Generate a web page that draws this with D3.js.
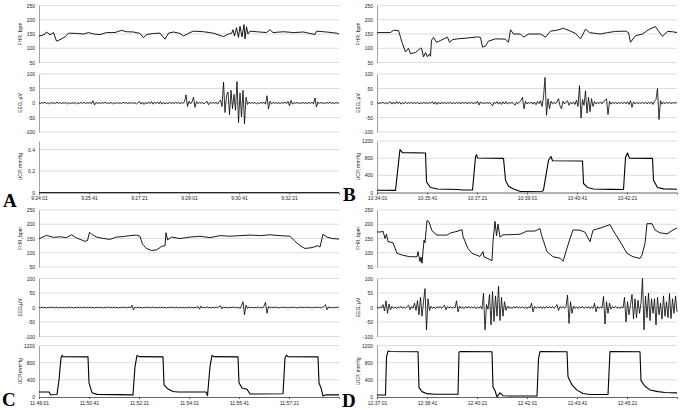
<!DOCTYPE html>
<meta charset="utf-8">
<script src="https://d3js.org/d3.v7.min.js"></script>
<style>
  body { margin: 0; background: #fff; }
  svg { display: block; font-family: "Liberation Sans", Arial, sans-serif; }
</style>
<div id="chart"></div>
<script>
const width = 683, height = 410;

// time axis labels, one every 100 s
const timesA = ["9:24:01", "9:25:41", "9:27:21", "9:29:01", "9:30:41", "9:32:21"];
const timesB = ["10:34:01", "10:35:41", "10:37:21", "10:39:01", "10:40:41", "10:42:21"];
const timesC = ["11:49:01", "11:50:41", "11:52:21", "11:54:01", "11:55:41", "11:57:21"];
const timesD = ["12:37:01", "12:38:41", "12:40:21", "12:42:01", "12:43:41", "12:45:21"];
const timeTicks = [0, 100, 200, 300, 400, 500];

const fhrTicks = [50, 100, 150, 200, 250];
const eegTicks = [-100, -50, 0, 50, 100];
const ucpTicks = [0, 400, 800, 1200];
const ucpTicksA = [0, 0.2, 0.4];

// FHR, [seconds, bpm]
const fhrA = [[0,143],[6,145],[12,150],[15,157],[22,147],[29,155],[35,125],[42,130],[52,140],[59,153],[75,152],[89,150],[99,155],[109,150],[122,148],[135,155],[152,155],[165,163],[175,158],[189,157],[202,152],[209,137],[215,148],[229,152],[242,153],[252,132],[259,153],[269,157],[282,152],[289,143],[302,155],[309,160],[329,158],[349,153],[369,141],[379,150],[385,152],[388,165],[391,143],[395,172],[399,138],[402,177],[406,140],[410,183],[412,133],[415,175],[418,150],[422,160],[435,158],[455,155],[462,165],[468,155],[489,158],[509,155],[529,157],[552,148],[555,160],[575,157],[595,153],[600,150]];
const fhrB = [[0,155],[27,155],[33,163],[43,162],[50,121],[57,87],[63,100],[67,81],[77,85],[87,100],[89,100],[93,70],[97,85],[101,70],[105,80],[107,72],[109,128],[113,138],[119,121],[127,127],[141,139],[145,121],[151,130],[161,133],[181,136],[201,140],[207,138],[211,104],[217,108],[223,125],[237,133],[257,132],[263,121],[267,165],[273,150],[287,150],[293,139],[303,150],[327,150],[337,139],[347,160],[359,163],[373,170],[387,160],[397,152],[407,133],[417,167],[425,155],[437,152],[447,150],[461,155],[477,159],[497,160],[503,155],[507,121],[517,144],[531,150],[543,165],[557,176],[563,160],[571,142],[581,159],[591,158],[600,155]];
const fhrC = [[0,149],[15,161],[29,154],[42,156],[55,153],[65,163],[75,152],[85,145],[92,140],[97,143],[101,172],[105,165],[115,155],[129,150],[142,147],[155,155],[169,157],[182,160],[195,162],[202,158],[207,130],[215,115],[225,108],[235,110],[245,122],[252,125],[254,170],[257,145],[265,155],[282,150],[302,155],[322,158],[342,153],[362,160],[382,158],[402,160],[422,162],[442,160],[462,163],[482,160],[502,158],[512,140],[522,125],[532,115],[546,118],[558,125],[562,120],[568,165],[576,155],[586,150],[600,148]];
const fhrD = [[0,173],[8,173],[12,176],[16,150],[19,165],[22,139],[32,135],[40,98],[52,91],[66,86],[80,86],[82,104],[86,69],[88,85],[90,63],[94,144],[96,135],[100,213],[104,208],[110,177],[120,162],[140,162],[148,170],[160,175],[170,181],[172,157],[182,115],[190,98],[206,87],[212,104],[214,85],[220,81],[230,72],[232,139],[236,210],[239,160],[242,200],[246,155],[252,163],[260,163],[286,165],[300,176],[316,176],[326,185],[329,162],[340,104],[352,86],[366,81],[372,70],[380,116],[386,150],[392,180],[406,179],[416,172],[426,139],[432,179],[452,190],[466,199],[472,179],[490,128],[500,98],[512,86],[526,80],[530,92],[536,133],[540,202],[550,202],[556,180],[566,170],[580,166],[592,180],[600,187]];

// EEG, one value every 3 s
const eegStep = 3;
const eegA = [
  1,-2,2,-1,3,-2,1,-3,2,-1,1,-2,3,-1,2,-2,1,-1,2,-3,
  1,-2,1,-1,2,-3,1,-2,2,-1,3,-2,1,-1,2,-2,8,-7,2,-1,
  1,-2,2,-1,3,-2,1,-1,2,-3,1,-2,2,-1,1,-2,3,-1,2,-2,
  1,-1,2,-2,1,-3,2,5,-4,3,-5,2,-3,4,-2,5,-4,3,-2,4,
  -3,5,-4,2,-3,1,-2,2,-1,1,-2,3,-1,2,-2,1,-1,4,28,-12,
  6,-3,4,20,-15,5,-2,2,-1,2,-3,2,6,-6,2,-1,2,-2,3,-4,
  5,10,-12,72,-33,25,38,-40,44,-20,30,-25,74,-68,35,-48,44,-72,20,-5,
  3,-2,2,-1,2,-3,1,-2,2,-1,3,-4,25,-20,6,-3,2,-1,2,-2,
  1,-2,2,-1,3,-2,6,-10,9,-4,2,-1,2,-2,1,-1,2,-2,1,-1,
  2,-2,3,-3,17,-14,4,-2,2,-1,1,-2,2,-1,3,-2,1,-2,2,-1,
  1];
const eegB = [
  2,-2,1,-1,3,-2,1,-2,2,4,-4,3,-3,5,-2,4,-4,2,-3,4,
  -2,1,-1,2,-2,1,-1,2,-3,1,-2,2,-1,1,-2,2,-1,5,-4,4,
  -5,3,-3,1,-1,2,-2,1,-1,2,-2,1,-2,2,-1,1,-2,2,-1,2,
  -2,1,-1,2,-2,1,-1,6,-7,4,-2,1,-2,2,-1,1,-2,-10,3,-2,
  5,-4,3,-5,4,-3,5,-4,2,-1,2,-2,-8,3,-2,4,8,20,-20,6,
  -3,2,-2,4,-4,3,-6,5,-2,8,-12,20,88,-42,15,-20,6,-3,2,-2,
  4,15,-10,-20,6,-3,3,8,-8,2,-3,4,-5,10,-12,60,-52,12,-8,42,
  -35,20,-30,15,-12,5,-3,2,-2,4,-3,5,8,15,-40,6,-4,3,-2,2,
  -2,1,-1,2,-2,3,-3,4,-5,8,-15,4,-3,2,-2,1,-1,2,-2,3,
  -3,2,-2,4,-5,6,12,50,-57,8,-4,3,-2,2,-1,2,-2,1,-1,2,
  -1];
const eegC = [
  1,-1,2,-1,1,-2,1,-1,2,-1,1,-1,2,-2,1,-1,1,-2,1,-1,
  2,-1,1,-2,1,-1,2,-1,1,-1,2,-2,1,-1,2,-1,1,-2,1,-1,
  1,-1,2,-2,1,-1,2,-1,1,-1,2,-1,1,-2,1,-1,2,-1,1,-1,
  2,-1,8,-8,1,-1,2,-1,1,-2,1,-1,2,-1,1,-1,2,-2,1,-1,
  1,-1,2,-1,1,-2,1,-1,2,-1,1,-1,2,-2,1,-1,1,-2,1,-1,
  2,-1,1,-2,1,-1,4,-6,5,-2,1,-1,2,-1,1,-2,1,-1,2,-1,
  3,6,-5,2,-1,1,-2,1,-1,2,-1,1,-2,2,-4,6,20,-25,8,-3,
  2,-1,1,-2,1,-1,2,-1,1,-2,5,18,-20,4,-2,1,-1,2,-1,1,
  -2,1,-1,2,-1,1,-2,1,-1,2,-1,1,-2,1,-1,2,-1,1,-1,2,
  -1,1,-2,1,-1,2,-1,1,-2,1,4,10,-8,2,-1,1,-2,1,-1,2,
  -1];
const eegD = [
  2,-3,3,-2,10,-12,23,-20,12,-8,4,-3,2,-4,3,-2,4,-3,2,-2,
  3,8,-8,4,-3,15,-10,24,-25,35,-30,20,65,-77,30,-10,4,-3,2,-4,
  3,-2,4,-3,2,8,-8,3,-2,4,-3,2,-2,23,-15,5,-3,2,-4,3,
  -2,4,-3,2,-2,3,-4,2,-3,4,-5,49,-77,10,-6,45,-60,55,-48,40,
  -30,73,-45,35,-30,20,-10,5,-3,2,-4,3,-2,4,-3,2,-2,3,-3,2,
  -4,3,-2,15,-15,4,-3,2,-2,3,-4,2,-3,4,-2,3,-2,4,-3,2,
  10,-10,3,-2,4,-3,2,43,-55,20,-20,5,-3,2,-4,3,-2,4,-3,2,
  -2,3,-4,2,-3,15,-15,4,-3,2,-2,38,-57,20,-20,15,-6,3,-2,4,
  -3,2,-4,3,-2,35,-50,20,-25,10,45,-40,30,-35,25,-20,15,100,-77,40,
  -35,50,-45,30,-20,30,-60,35,-25,15,-40,40,-30,20,-35,48,-38,30,-20,40,
  -15];

// UCP, [seconds, mmHg]
const ucpA = [[0,0],[600,0]];
const ucpB = [[0,53],[37,50],[45,905],[46,1000],[51,930],[97,920],[99,247],[107,117],[121,80],[163,70],[171,60],[191,58],[197,830],[199,880],[201,805],[253,795],[257,287],[263,147],[273,80],[287,25],[331,30],[333,60],[343,750],[348,840],[351,740],[411,735],[413,210],[421,117],[433,80],[467,72],[493,70],[497,815],[501,920],[505,800],[551,795],[553,287],[561,117],[573,85],[600,75]];
const ucpC = [[0,117],[20,117],[23,53],[36,60],[40,400],[44,915],[46,970],[48,940],[98,935],[100,330],[106,100],[116,61],[188,50],[192,710],[196,970],[200,940],[248,935],[250,285],[258,185],[268,130],[278,115],[334,115],[337,30],[342,710],[346,970],[350,940],[398,935],[400,330],[406,208],[416,180],[422,70],[488,75],[492,915],[495,975],[498,940],[558,935],[560,330],[564,210],[568,25],[574,50],[600,50]];
const ucpD = [[0,47],[17,45],[19,930],[22,1070],[26,1060],[82,1055],[84,220],[90,125],[100,78],[116,65],[162,65],[164,1050],[167,1060],[230,1055],[232,230],[236,150],[240,0],[246,95],[252,30],[266,25],[320,25],[323,890],[326,1060],[380,1055],[382,470],[390,280],[400,160],[412,80],[426,60],[462,60],[466,1060],[526,1055],[528,380],[536,250],[546,165],[562,125],[576,105],[600,95]];

const panels = [
  { letter: "A", left: 39, top: 0, letterX: 3, letterY: 207, times: timesA, fhr: fhrA, eeg: eegA, ucp: ucpA,
    ucpMax: 0.48, ucpTicks: ucpTicksA, eegTitle: "EEG, µV", ucpTitle: "UCP, mmHg" },
  { letter: "B", left: 377, top: 0, letterX: 343, letterY: 201, times: timesB, fhr: fhrB, eeg: eegB, ucp: ucpB,
    ucpMax: 1200, ucpTicks: ucpTicks, eegTitle: "EEG, µV", ucpTitle: "UCP, mmHg" },
  { letter: "C", left: 39, top: 204.5, letterX: 2, letterY: 406, times: timesC, fhr: fhrC, eeg: eegC, ucp: ucpC,
    ucpMax: 1200, ucpTicks: ucpTicks, eegTitle: "EEG,µV", ucpTitle: "UCP,mmHg" },
  { letter: "D", left: 377, top: 204.5, letterX: 342, letterY: 407, times: timesD, fhr: fhrD, eeg: eegD, ucp: ucpD,
    ucpMax: 1200, ucpTicks: ucpTicks, eegTitle: "EEG, µV", ucpTitle: "UCP, mmHg" }
];

const plotW = 300;

const svg = d3.select("#chart")
  .append("svg")
  .attr("width", width)
  .attr("height", height)
  .attr("viewBox", [0, 0, width, height]);

svg.append("rect").attr("width", width).attr("height", height).attr("fill", "#fff");

panels.forEach(p => {
  const g = svg.append("g");
  const x = d3.scaleLinear().domain([0, 600]).range([p.left, p.left + plotW]);

  const rows = [
    { domain: [50, 250], ticks: fhrTicks, range: [62.5, 5.5], title: "FHR, bpm", data: p.fhr, sw: 0.9 },
    { domain: [-100, 100], ticks: eegTicks, range: [132, 74], title: p.eegTitle,
      data: p.eeg.map((v, i) => [i * eegStep, v]), sw: 0.8 },
    { domain: [0, p.ucpMax], ticks: p.ucpTicks, range: [192.5, 141], title: p.ucpTitle, data: p.ucp, sw: 1.1 }
  ];

  rows.forEach((r, k) => {
    const y = d3.scaleLinear().domain(r.domain).range(r.range.map(v => v + p.top));

    // gridlines
    g.append("g")
      .selectAll("line")
      .data(r.ticks.filter(d => d !== r.domain[0] || k < 2))
      .join("line")
      .attr("x1", p.left).attr("x2", p.left + plotW)
      .attr("y1", d => y(d)).attr("y2", d => y(d))
      .attr("stroke", "#d4d4d4")
      .attr("stroke-width", 0.8);

    // y axis
    g.append("g")
      .attr("transform", `translate(${p.left},0)`)
      .call(d3.axisLeft(y).tickValues(r.ticks).tickSize(0).tickPadding(4).tickFormat(d => String(d)))
      .call(a => a.select(".domain").attr("stroke", "#8c8c8c").attr("stroke-width", 0.8))
      .call(a => a.selectAll("text").attr("font-size", 5).attr("fill", "#222")
        .attr("font-family", "'Liberation Sans', Arial, sans-serif"));

    // axis title
    g.append("text")
      .attr("transform", `translate(${p.left - 17},${(r.range[0] + r.range[1]) / 2 + p.top}) rotate(-90)`)
      .attr("text-anchor", "middle")
      .attr("font-size", 5)
      .attr("fill", "#222")
      .text(r.title);

    // trace
    g.append("path")
      .datum(r.data)
      .attr("fill", "none")
      .attr("stroke", "#000")
      .attr("stroke-width", r.sw)
      .attr("stroke-linejoin", "round")
      .attr("d", d3.line().x(d => x(d[0])).y(d => y(d[1])));

    // time axis under the UCP plot
    if (k === 2) {
      g.append("g")
        .attr("transform", `translate(0,${y(0)})`)
        .call(d3.axisBottom(x).tickValues(timeTicks).tickSize(2).tickPadding(2)
          .tickFormat((d, i) => p.times[i]))
        .call(a => a.select(".domain").attr("stroke", "#555").attr("stroke-width", 0.9))
        .call(a => a.selectAll(".tick line").attr("stroke", "#555"))
        .call(a => a.selectAll("text").attr("font-size", 5).attr("fill", "#222")
          .attr("font-family", "'Liberation Sans', Arial, sans-serif"));
    }
  });

  // panel letter
  g.append("text")
    .attr("x", p.letterX)
    .attr("y", p.letterY)
    .attr("font-family", "'Liberation Serif', 'Times New Roman', serif")
    .attr("font-weight", "bold")
    .attr("font-size", 19)
    .attr("fill", "#000")
    .text(p.letter);
});
</script>
